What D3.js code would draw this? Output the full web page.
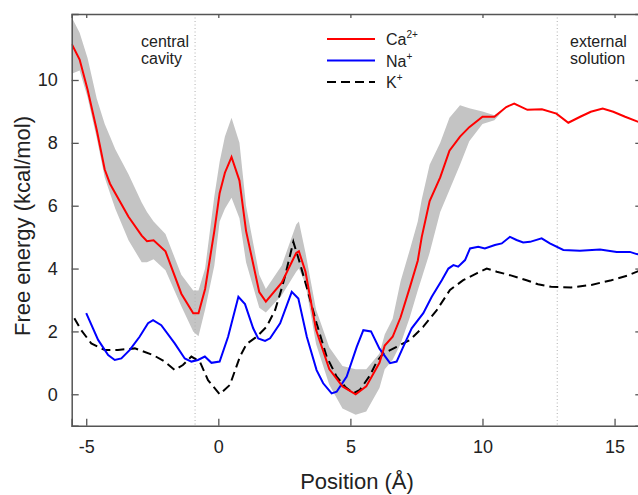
<!DOCTYPE html>
<html>
<head>
<meta charset="utf-8">
<script src="https://cdn.jsdelivr.net/npm/d3@7/dist/d3.min.js"></script>
<style>
  body { margin: 0; background: #fff; }
  svg { display: block; font-family: "Liberation Sans", Arial, sans-serif; }
</style>
</head>
<body>
<svg id="chart" width="638" height="495"></svg>
<script>
// ---- data ----
const xTicks = [-5, 0, 5, 10, 15];
const yTicks = [0, 2, 4, 6, 8, 10];

const caPos    = [-5.55, -5.25, -4.95, -4.6, -4.3, -4.1, -3.9, -3.4, -2.9, -2.7, -2.45, -2.0, -1.4, -0.95, -0.75, -0.5, -0.15, 0.05, 0.25, 0.5, 0.8, 1.05, 1.55, 1.8, 2.4, 2.95, 3.05, 3.3, 3.7, 4.2, 4.7, 5.2, 5.6, 6.1, 6.3, 6.6, 6.9, 7.25, 7.55, 7.7, 8.0, 8.4, 8.75, 9.15, 9.5, 10.0, 10.45, 10.9, 11.2, 11.7, 12.25, 12.8, 13.25, 13.7, 14.1, 14.55, 14.95, 15.4, 16.05];
const caEnergy = [11.15, 10.65, 9.7, 8.4, 7.15, 6.7, 6.4, 5.65, 5.05, 4.87, 4.9, 4.55, 3.2, 2.58, 2.58, 3.35, 5.2, 6.4, 7.05, 7.55, 6.8, 5.2, 3.25, 2.95, 3.55, 4.5, 4.55, 3.9, 2.05, 0.8, 0.25, 0.0, 0.25, 1.0, 1.55, 1.83, 2.45, 3.4, 4.25, 5.0, 6.15, 6.9, 7.75, 8.2, 8.5, 8.83, 8.83, 9.14, 9.25, 9.05, 9.07, 8.93, 8.64, 8.83, 8.99, 9.09, 8.99, 8.83, 8.62];
const caUpper  = [12.0, 11.5, 10.7, 9.4, 8.6, 8.2, 7.8, 7.0, 6.1, 5.8, 5.5, 5.1, 3.8, 3.3, 3.3, 4.0, 6.3, 7.4, 8.2, 8.8, 8.0, 6.0, 3.8, 3.35, 4.1, 5.4, 5.5, 4.5, 2.7, 1.5, 0.9, 0.8, 0.8, 1.3, 1.9, 2.4, 3.6, 4.6, 5.5, 6.2, 7.3, 8.0, 8.8, 9.2, 9.1, 9.0, 8.88, 9.14, 9.25, 9.05, 9.07, 8.93, 8.64, 8.83, 8.99, 9.09, 8.99, 8.83, 8.62];
const caLower  = [10.2, 10.3, 9.45, 8.15, 6.9, 6.4, 5.9, 4.9, 4.2, 4.2, 4.3, 3.95, 2.8, 2.0, 1.85, 2.7, 4.1, 5.5, 5.9, 6.25, 5.6, 4.2, 2.75, 2.6, 3.15, 3.9, 4.0, 3.5, 1.6, 0.3, -0.45, -0.65, -0.55, 0.2, 0.8, 1.1, 1.6, 2.45, 3.3, 3.7, 4.5, 5.8, 6.5, 7.3, 8.05, 8.6, 8.72, 9.14, 9.25, 9.05, 9.07, 8.93, 8.64, 8.83, 8.99, 9.09, 8.99, 8.83, 8.62];

const naPos    = [-5.0, -4.55, -4.17, -3.92, -3.67, -3.35, -2.98, -2.66, -2.47, -2.16, -1.65, -1.27, -1.02, -0.77, -0.51, -0.26, 0.05, 0.37, 0.76, 1.01, 1.32, 1.51, 1.77, 1.96, 2.34, 2.78, 3.03, 3.35, 3.72, 3.97, 4.29, 4.48, 4.86, 5.24, 5.49, 5.78, 6.1, 6.5, 6.75, 7.0, 7.32, 7.76, 8.08, 8.46, 8.71, 8.9, 9.08, 9.34, 9.53, 9.84, 10.09, 10.47, 10.73, 11.04, 11.29, 11.54, 11.8, 12.24, 12.55, 13.06, 13.69, 14.45, 15.08, 15.58, 15.84, 16.05];
const naEnergy = [2.58, 1.73, 1.25, 1.09, 1.14, 1.41, 1.83, 2.26, 2.36, 2.2, 1.62, 1.14, 1.04, 1.09, 1.2, 1.0, 1.04, 1.83, 3.1, 2.87, 2.1, 1.78, 1.7, 1.78, 2.26, 3.26, 3.05, 1.83, 0.77, 0.35, 0.03, 0.08, 0.56, 1.51, 2.04, 2.0, 1.45, 0.99, 1.04, 1.51, 2.1, 2.58, 3.1, 3.63, 4.0, 4.11, 4.06, 4.27, 4.64, 4.69, 4.64, 4.75, 4.8, 5.01, 4.91, 4.83, 4.85, 4.96, 4.8, 4.59, 4.57, 4.61, 4.53, 4.53, 4.46, 4.44];

const kPos    = [-5.45, -5.19, -4.81, -4.3, -3.8, -3.16, -2.47, -2.03, -1.65, -1.34, -1.02, -0.7, -0.39, 0.05, 0.44, 0.82, 1.07, 1.45, 1.83, 2.15, 2.4, 2.52, 2.84, 3.09, 3.41, 3.72, 4.1, 4.48, 4.8, 5.11, 5.36, 5.74, 6.0, 6.25, 6.75, 7.26, 7.76, 8.27, 8.77, 9.27, 9.78, 10.16, 10.54, 11.04, 11.67, 12.1, 12.6, 13.36, 14.12, 14.88, 15.5, 16.05];
const kEnergy = [2.42, 2.04, 1.62, 1.41, 1.41, 1.46, 1.25, 1.04, 0.77, 0.93, 1.2, 1.04, 0.45, 0.0, 0.3, 1.2, 1.6, 1.83, 2.15, 2.68, 3.37, 3.74, 4.85, 4.17, 3.21, 2.26, 1.2, 0.56, 0.24, 0.03, 0.14, 0.6, 1.04, 1.3, 1.51, 1.73, 2.15, 2.68, 3.32, 3.63, 3.85, 4.0, 3.9, 3.79, 3.63, 3.5, 3.42, 3.4, 3.48, 3.63, 3.78, 3.97];

const regionLines = [-0.88, 12.83];
const legendItems = [
  { base: "Ca", sup: "2+", color: "#ff0000", dash: null },
  { base: "Na", sup: "+", color: "#0000ff", dash: null },
  { base: "K",  sup: "+", color: "#000000", dash: "9,5" }
];

// ---- layout ----
const svg = d3.select("#chart");
const L = 71.7, R = 642.3, T = 14, B = 425.7;
const x = d3.scaleLinear().domain([-5.55, 16.05]).range([L, R]);
const y = d3.scaleLinear().domain([-1, 12.1]).range([B, T]);

svg.append("defs").append("clipPath").attr("id", "plotclip")
  .append("rect").attr("x", L).attr("y", T).attr("width", R - L).attr("height", B - T);

const plot = svg.append("g").attr("clip-path", "url(#plotclip)");

// band
const bandData = caPos.map((p, i) => ({ p, u: caUpper[i], l: caLower[i] }));
plot.append("path")
  .datum(bandData)
  .attr("d", d3.area().x(d => x(d.p)).y0(d => y(d.l)).y1(d => y(d.u)))
  .attr("fill", "#c4c4c4");

// region dotted lines
regionLines.forEach(v => {
  plot.append("line")
    .attr("x1", x(v)).attr("x2", x(v)).attr("y1", T).attr("y2", B)
    .attr("stroke", "#b0b0b0").attr("stroke-width", 1)
    .attr("stroke-dasharray", "1,2.5");
});

const line = d3.line().x(d => x(d[0])).y(d => y(d[1]));

plot.append("path").datum(kPos.map((p, i) => [p, kEnergy[i]]))
  .attr("d", line).attr("fill", "none").attr("stroke", "#000")
  .attr("stroke-width", 2).attr("stroke-dasharray", "9,5");
plot.append("path").datum(naPos.map((p, i) => [p, naEnergy[i]]))
  .attr("d", line).attr("fill", "none").attr("stroke", "#0000ff").attr("stroke-width", 2);
plot.append("path").datum(caPos.map((p, i) => [p, caEnergy[i]]))
  .attr("d", line).attr("fill", "none").attr("stroke", "#ff0000").attr("stroke-width", 2);

// ---- axes ----
const axisColor = "#555";
const tl = 7;
const gx = svg.append("g").attr("transform", `translate(0,${B})`)
  .call(d3.axisBottom(x).tickValues(xTicks).tickSize(-tl).tickPadding(tl + 8).tickFormat(d3.format("d")));
const gxTop = svg.append("g").attr("transform", `translate(0,${T})`)
  .call(d3.axisTop(x).tickValues(xTicks).tickSize(-4).tickFormat(""));
const gy = svg.append("g").attr("transform", `translate(${L},0)`)
  .call(d3.axisLeft(y).tickValues(yTicks).tickSize(-tl).tickPadding(tl + 7).tickFormat(d3.format("d")));
const gyR = svg.append("g").attr("transform", `translate(${R},0)`)
  .call(d3.axisRight(y).tickValues(yTicks).tickSize(-tl).tickFormat(""));

[gx, gxTop, gy, gyR].forEach(g => {
  g.select(".domain").attr("stroke", axisColor).attr("stroke-width", 1.5);
  g.selectAll(".tick line").attr("stroke", axisColor).attr("stroke-width", 1.3);
  g.selectAll(".tick text").attr("fill", "#222").style("font-size", "18px")
    .style("font-family", "'Liberation Sans', Arial, sans-serif");
});
gx.selectAll(".tick text").text(d => d < 0 ? "-" + Math.abs(d) : d);

// axis titles
svg.append("text").attr("x", (L + R) / 2).attr("y", 489)
  .attr("text-anchor", "middle").attr("fill", "#222").style("font-size", "22px")
  .text("Position (Å)");
svg.append("text").attr("transform", `translate(30,226) rotate(-90)`)
  .attr("text-anchor", "middle").attr("fill", "#222").style("font-size", "22px")
  .text("Free energy (kcal/mol)");

// region labels
const lbl = (tx, lines) => {
  lines.forEach((s, i) => {
    svg.append("text").attr("x", tx).attr("y", 47 + i * 17)
      .attr("fill", "#222").style("font-size", "16px").text(s);
  });
};
lbl(141, ["central", "cavity"]);
lbl(570, ["external", "solution"]);

// legend
legendItems.forEach((it, i) => {
  const ly = 39 + i * 21.5;
  svg.append("line").attr("x1", 327).attr("x2", 375).attr("y1", ly).attr("y2", ly)
    .attr("stroke", it.color).attr("stroke-width", 2)
    .attr("stroke-dasharray", it.dash);
  const t = svg.append("text").attr("x", 386).attr("y", ly + 6)
    .attr("fill", "#222").style("font-size", "16px");
  t.append("tspan").text(it.base);
  t.append("tspan").attr("dy", -7).style("font-size", "10px").text(it.sup);
});
</script>
</body>
</html>
